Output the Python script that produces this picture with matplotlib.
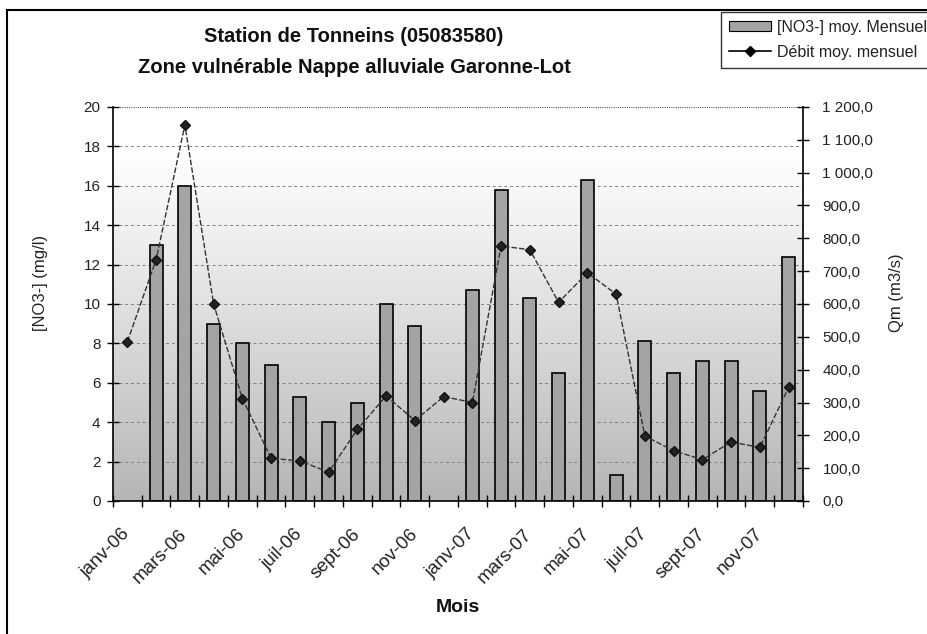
import numpy as np
import matplotlib
matplotlib.use("Agg")
import matplotlib.pyplot as plt
from matplotlib.patches import Rectangle, Patch
from matplotlib.lines import Line2D
from matplotlib.ticker import FuncFormatter
from matplotlib.transforms import ScaledTranslation

plt.rcParams['font.family'] = ['Liberation Sans', 'DejaVu Sans']

months = ["janv-06", "févr-06", "mars-06", "avr-06", "mai-06", "juin-06",
          "juil-06", "août-06", "sept-06", "oct-06", "nov-06", "déc-06",
          "janv-07", "févr-07", "mars-07", "avr-07", "mai-07", "juin-07",
          "juil-07", "août-07", "sept-07", "oct-07", "nov-07", "déc-07"]
no3 = [None, 13.0, 16.0, 9.0, 8.0, 6.9, 5.3, 4.0, 5.0, 10.0, 8.9, None,
       10.7, 15.8, 10.3, 6.5, 16.3, 1.3, 8.1, 6.5, 7.1, 7.1, 5.6, 12.4]
debit = [485, 735, 1145, 600, 312, 130, 122, 88, 218, 320, 245, 318,
         300, 777, 765, 605, 695, 630, 198, 153, 126, 180, 163, 346]

title = "Station de Tonneins (05083580)\nZone vulnérable Nappe alluviale Garonne-Lot"
ylabel_left = "[NO3-] (mg/l)"
ylabel_right = "Qm (m3/s)"
xlabel = "Mois"
legend_bar = "[NO3-] moy. Mensuel"
legend_line = "Débit moy. mensuel"

W, H = 928, 634
fig = plt.figure(figsize=(W / 100, H / 100), dpi=100)
fig.patch.set_facecolor("white")

L, R, T, B = 113, 803, 107, 501
ax = fig.add_axes([L / W, 1 - B / H, (R - L) / W, (B - T) / H])

n = len(months)
x = np.arange(n)
no3_arr = np.array([np.nan if v is None else v for v in no3], dtype=float)

# gradient background: white at top, gray at bottom
t = np.linspace(0, 1, 256)
g = np.clip((t - 0.1) / 0.9, 0, 1) ** 1.1
cvals = 1.0 - 0.29 * g
img = np.dstack([cvals, cvals, cvals]).reshape(256, 1, 3)
ax.imshow(img, extent=[-0.5, n - 0.5, 0, 20], aspect="auto", zorder=0,
          interpolation="bilinear", origin="upper")
ax.set_xlim(-0.5, n - 0.5)
ax.set_ylim(0, 20)

ax.set_yticks(np.arange(0, 21, 2))
for yv in np.arange(2, 20, 2):
    ax.axhline(yv, color="#808080", lw=0.7, ls=(0, (3, 3)), zorder=1)
ax.axhline(20, color="#555555", lw=0.8, ls=(0, (1, 1)), zorder=1)

ax.bar(x, no3_arr, width=0.45, color="#a4a4a4", edgecolor="black",
       linewidth=1.2, zorder=2)

ax2 = ax.twinx()
ax2.set_ylim(0, 1200)
ax2.set_yticks(np.arange(0, 1201, 100))
ax2.plot(x, debit, color="#333333", lw=1.0, ls=(0, (4, 1.5)), marker="D",
         markersize=5.5, markerfacecolor="#222222",
         markeredgecolor="#111111", zorder=3)

def fr_fmt(v, pos):
    s = f"{v:,.1f}"
    return s.replace(",", " ").replace(".", ",")
ax2.yaxis.set_major_formatter(FuncFormatter(fr_fmt))

# x ticks: boundaries as tick marks, labels every other month
ax.set_xticks(np.arange(-0.5, n, 1.0))
ax.set_xticklabels([])
ax.set_xticks(x[::2], minor=True)
ax.set_xticklabels(months[::2], minor=True, rotation=45, ha="right",
                   va="center", rotation_mode="anchor", fontsize=13.5,
                   color="#222222")
shift = ScaledTranslation(-13 / 100, 0, fig.dpi_scale_trans)
for lab in ax.get_xticklabels(minor=True):
    lab.set_transform(lab.get_transform() + shift)
ax.tick_params(axis="x", which="major", direction="inout", length=8,
               width=1, color="black")
ax.tick_params(axis="x", which="minor", length=0, pad=22)
ax.tick_params(axis="y", direction="inout", length=8, width=1,
               labelsize=11, labelcolor="#222222", pad=5)
ax2.tick_params(axis="y", direction="inout", length=8, width=1,
                labelsize=11, labelcolor="#222222", pad=10)

for a in (ax, ax2):
    a.spines["top"].set_visible(False)
ax.spines["right"].set_visible(False)
ax2.spines["left"].set_visible(False)
ax2.spines["bottom"].set_visible(False)
ax.spines["left"].set_linewidth(1.2)
ax.spines["bottom"].set_linewidth(1.2)
ax2.spines["right"].set_linewidth(1.2)

fig.text(40 / W, 1 - 283 / H, ylabel_left, rotation=90, ha="center",
         va="center", fontsize=12, color="#222222")
fig.text(897 / W, 1 - 293 / H, ylabel_right, rotation=90, ha="center",
         va="center", fontsize=12, color="#222222")
fig.text(458 / W, 1 - 608 / H, xlabel, ha="center", va="center",
         fontsize=14, fontweight="bold", color="#111111")
fig.text(354 / W, 1 - 52 / H, title, ha="center", va="center",
         fontsize=14.5, fontweight="bold", color="#111111", linespacing=1.75)

# outer frame
fig.patches.append(Rectangle((7 / W, -0.01), 1.0, 1 - 10 / H + 0.01,
                             transform=fig.transFigure, fill=False,
                             edgecolor="black", lw=1.5, zorder=10))

handles = [Patch(facecolor="#a4a4a4", edgecolor="black", lw=0.8),
           Line2D([0], [0], color="black", lw=1.2, marker="D",
                  markersize=5)]
leg = fig.legend(handles, [legend_bar, legend_line], loc="upper left",
                 bbox_to_anchor=(721 / W, 1 - 12 / H), fontsize=11.5,
                 frameon=True, fancybox=False, edgecolor="black",
                 handlelength=2.6, handleheight=0.6, borderpad=0.5,
                 labelspacing=0.6, handletextpad=0.4, borderaxespad=0)
leg.get_frame().set_linewidth(1.0)
for tx in leg.get_texts():
    tx.set_color("#222222")

fig.savefig("out.png", dpi=100)
